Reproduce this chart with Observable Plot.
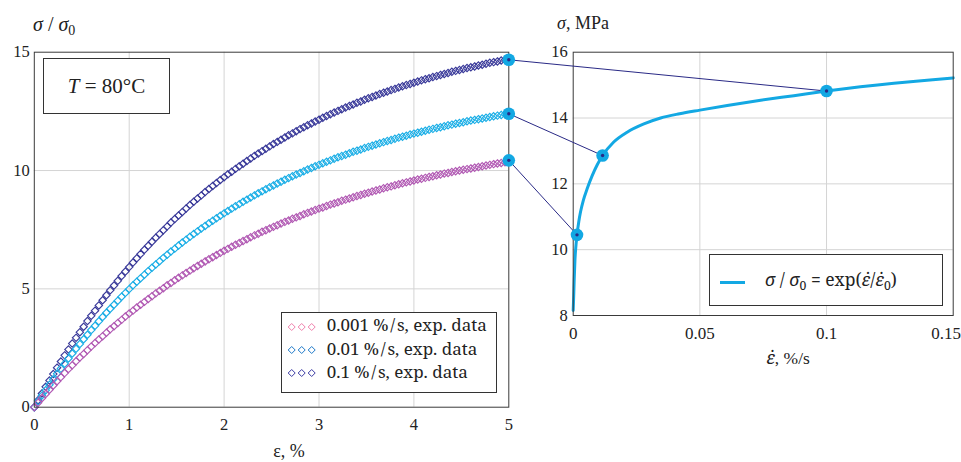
<!DOCTYPE html>
<html><head><meta charset="utf-8">
<script src="https://cdn.jsdelivr.net/npm/d3@7"></script>
<script src="https://cdn.jsdelivr.net/npm/@observablehq/plot@0.6"></script>
<style>
html,body{margin:0;padding:0;background:#fff;}
#wrap{position:relative;width:961px;height:462px;overflow:hidden;font-family:"Liberation Serif","DejaVu Serif",serif;color:#222;}
#wrap > svg.plotsvg{position:absolute;left:0;top:0;}
.t{position:absolute;white-space:nowrap;line-height:1;}
.ns{font-family:"Noto Serif","DejaVu Serif",serif;}
.box{position:absolute;box-sizing:border-box;border:1.2px solid #333;background:#fff;}
sub{font-size:0.7em;vertical-align:-0.3em;line-height:0;}
</style></head><body><div id="wrap"></div>
<script>
// ---------- data ----------
const strain = [0,0.04,0.08,0.12,0.16,0.2,0.24,0.28,0.32,0.36,0.4,0.44,0.48,0.52,0.56,0.6,0.64,0.68,0.72,0.76,0.8,0.84,0.88,0.92,0.96,
1,1.04,1.08,1.12,1.16,1.2,1.24,1.28,1.32,1.36,1.4,1.44,1.48,1.52,1.56,1.6,1.64,1.68,1.72,1.76,1.8,1.84,1.88,1.92,1.96,
2,2.04,2.08,2.12,2.16,2.2,2.24,2.28,2.32,2.36,2.4,2.44,2.48,2.52,2.56,2.6,2.64,2.68,2.72,2.76,2.8,2.84,2.88,2.92,2.96,
3,3.04,3.08,3.12,3.16,3.2,3.24,3.28,3.32,3.36,3.4,3.44,3.48,3.52,3.56,3.6,3.64,3.68,3.72,3.76,3.8,3.84,3.88,3.92,3.96,
4,4.04,4.08,4.12,4.16,4.2,4.24,4.28,4.32,4.36,4.4,4.44,4.48,4.52,4.56,4.6,4.64,4.68,4.72,4.76,4.8,4.84,4.88,4.92,4.96,5];

const sigma0001 = [0.00,0.19,0.38,0.56,0.74,0.92,1.10,1.27,1.44,1.61,1.77,1.94,2.10,2.25,2.41,2.56,2.71,2.86,3.00,3.15,3.29,3.42,3.56,3.69,3.83,
3.96,4.08,4.21,4.33,4.45,4.57,4.69,4.81,4.92,5.03,5.15,5.25,5.36,5.47,5.57,5.67,5.77,5.87,5.97,6.06,6.16,6.25,6.34,6.43,6.52,
6.61,6.69,6.78,6.86,6.94,7.02,7.10,7.18,7.26,7.33,7.41,7.48,7.55,7.62,7.69,7.76,7.83,7.89,7.96,8.02,8.08,8.15,8.21,8.27,8.33,
8.39,8.44,8.50,8.56,8.61,8.66,8.72,8.77,8.82,8.87,8.92,8.97,9.02,9.06,9.11,9.16,9.20,9.25,9.29,9.33,9.38,9.42,9.46,9.50,9.54,
9.58,9.62,9.65,9.69,9.73,9.76,9.80,9.83,9.87,9.90,9.94,9.97,10.00,10.03,10.06,10.09,10.12,10.15,10.18,10.21,10.24,10.27,10.30,10.32,10.35,10.38];

const sigma001 = [0.00,0.25,0.49,0.72,0.95,1.18,1.41,1.63,1.84,2.06,2.27,2.47,2.67,2.87,3.06,3.26,3.44,3.63,3.81,3.99,4.16,4.33,4.50,4.67,4.83,
4.99,5.15,5.30,5.45,5.60,5.75,5.89,6.03,6.17,6.31,6.44,6.58,6.70,6.83,6.96,7.08,7.20,7.32,7.43,7.55,7.66,7.77,7.88,7.98,8.09,
8.19,8.29,8.39,8.49,8.58,8.68,8.77,8.86,8.95,9.04,9.12,9.21,9.29,9.37,9.45,9.53,9.61,9.68,9.76,9.83,9.90,9.97,10.04,10.11,10.18,
10.24,10.31,10.37,10.43,10.50,10.56,10.61,10.67,10.73,10.79,10.84,10.89,10.95,11.00,11.05,11.10,11.15,11.20,11.25,11.29,11.34,11.39,11.43,11.47,11.52,
11.56,11.60,11.64,11.68,11.72,11.76,11.80,11.83,11.87,11.91,11.94,11.98,12.01,12.04,12.08,12.11,12.14,12.17,12.20,12.23,12.26,12.29,12.32,12.35,12.38,12.40];

const sigma01 = [0.00,0.29,0.58,0.86,1.13,1.40,1.67,1.93,2.19,2.44,2.69,2.93,3.17,3.40,3.64,3.86,4.08,4.30,4.52,4.73,4.94,5.14,5.34,5.54,5.73,
5.92,6.11,6.29,6.47,6.65,6.82,6.99,7.16,7.32,7.48,7.64,7.80,7.95,8.10,8.25,8.40,8.54,8.68,8.82,8.95,9.09,9.22,9.35,9.47,9.60,
9.72,9.84,9.95,10.07,10.18,10.29,10.40,10.51,10.62,10.72,10.82,10.92,11.02,11.12,11.21,11.30,11.40,11.49,11.57,11.66,11.75,11.83,11.91,11.99,12.07,
12.15,12.23,12.30,12.38,12.45,12.52,12.59,12.66,12.73,12.79,12.86,12.92,12.99,13.05,13.11,13.17,13.23,13.29,13.34,13.40,13.45,13.51,13.56,13.61,13.66,
13.71,13.76,13.81,13.86,13.90,13.95,13.99,14.04,14.08,14.12,14.17,14.21,14.25,14.29,14.33,14.36,14.40,14.44,14.47,14.51,14.55,14.58,14.61,14.65,14.68,14.71];

const legendLabels = ["0.001 %/s, exp. data", "0.01 %/s, exp. data", "0.1 %/s, exp. data"];
const endStrain = 5;
const endSigmaLeft = [10.43, 12.40, 14.68];
const pointRate = [0.0015, 0.0116, 0.1];
const pointSigma = [10.45, 12.86, 14.82];

const fitRate  = [0, 0.0002, 0.0004, 0.0007, 0.001, 0.0015, 0.0022, 0.0029, 0.004, 0.0055, 0.0075, 0.0095, 0.0116, 0.016, 0.0213, 0.0279, 0.0345, 0.042, 0.05, 0.0608, 0.074, 0.0871, 0.1, 0.1134, 0.1266, 0.1397, 0.15];
const fitSigma = [8.15, 8.6, 9.1, 9.7, 10.05, 10.45, 10.85, 11.15, 11.5, 11.85, 12.25, 12.58, 12.86, 13.27, 13.57, 13.82, 14.0, 14.13, 14.24, 14.38, 14.54, 14.68, 14.82, 14.95, 15.06, 15.15, 15.22];

const leftXTicks = [0, 1, 2, 3, 4, 5];
const leftYTicks = [0, 5, 10, 15];
const rightXTicks = [0, 0.05, 0.1, 0.15];
const rightYTicks = [8, 10, 12, 14, 16];

// ---------- styles ----------
const dataColors = ["#b159b3", "#1aaee6", "#393999"];
const legendColors = ["#ef7fac", "#1d79c9", "#3c3ca4"];
const CYAN = "#13a8e3", NAVY = "#2a2a86", FRAME = "#3a3a3a", GRID = "#d4d4d4";
const FONT = '"Liberation Serif", "DejaVu Serif", serif';

const wrap = document.getElementById("wrap");
const series = [sigma0001, sigma001, sigma01];
const common = {width: 961, height: 462,
  style: {background: "transparent", fontFamily: FONT, fontSize: "16.5px", color: "#222"}};
const fmt = d => String(d);

// ---------- left plot ----------
const leftPlot = Plot.plot({
  ...common,
  marginLeft: 33.8, marginRight: 452.7, marginTop: 51.7, marginBottom: 55.3,
  x: {domain: [0, 5]}, y: {domain: [0, 15]},
  marks: [
    Plot.gridX(leftXTicks.slice(1, -1), {stroke: GRID, strokeOpacity: 1}),
    Plot.gridY(leftYTicks.slice(1, -1), {stroke: GRID, strokeOpacity: 1}),
    ...[2, 1, 0].map(j => Plot.dot(strain.map((e, i) => ({e, s: series[j][i]})),
      {x: "e", y: "s", symbol: "diamond2", r: 3.3, stroke: dataColors[j], strokeWidth: 1.15})),
    Plot.frame({stroke: FRAME, strokeWidth: 1}),
    Plot.axisX(leftXTicks, {tickSize: 0, tickPadding: 11, tickFormat: fmt, label: null, fontSize: 16.5, fontFamily: FONT}),
    Plot.axisY(leftYTicks, {tickSize: 0, tickPadding: 4.5, tickFormat: fmt, label: null, fontSize: 16.5, fontFamily: FONT})
  ]
});
leftPlot.classList.add("plotsvg");
wrap.appendChild(leftPlot);

// ---------- right plot ----------
const rightOpts = {...common,
  marginLeft: 572.7, marginRight: 8.3, marginTop: 51.7, marginBottom: 147,
  x: {domain: [0, 0.15]}, y: {domain: [8, 16]}};
const probe = Plot.plot({...rightOpts, marks: [Plot.frame()]});
const rx = probe.scale("x"), ry = probe.scale("y");
const lx = leftPlot.scale("x"), ly = leftPlot.scale("y");

const links = endSigmaLeft.map((s, i) => ({
  x1: rx.invert(lx.apply(endStrain)), y1: ry.invert(ly.apply(s)),
  x2: pointRate[i], y2: pointSigma[i]}));
const circles = [
  ...links.map(d => ({x: d.x1, y: d.y1})),
  ...pointRate.map((r, i) => ({x: r, y: pointSigma[i]}))
];

const rightPlot = Plot.plot({
  ...rightOpts,
  marks: [
    Plot.gridX(rightXTicks.slice(1, -1), {stroke: GRID, strokeOpacity: 1}),
    Plot.gridY(rightYTicks.slice(1, -1), {stroke: GRID, strokeOpacity: 1}),
    Plot.line(fitRate.map((x, i) => ({x, y: fitSigma[i]})), {x: "x", y: "y", stroke: CYAN, strokeWidth: 3, curve: "monotone-x"}),
    Plot.frame({stroke: FRAME, strokeWidth: 1}),
    Plot.axisX(rightXTicks.slice(0, -1), {tickSize: 0, tickPadding: 11, tickFormat: fmt, label: null, fontSize: 17, fontFamily: FONT}),
    Plot.axisX(rightXTicks.slice(-1), {tickSize: 0, tickPadding: 11, tickFormat: fmt, label: null, fontSize: 17, fontFamily: FONT, dx: -7}),
    Plot.axisY(rightYTicks, {tickSize: 0, tickPadding: 5.5, tickFormat: fmt, label: null, fontSize: 16.5, fontFamily: FONT}),
    Plot.link(links, {x1: "x1", y1: "y1", x2: "x2", y2: "y2", stroke: NAVY, strokeWidth: 1}),
    Plot.dot(circles, {x: "x", y: "y", r: 6.3, fill: CYAN}),
    Plot.dot(circles, {x: "x", y: "y", r: 1.7, fill: NAVY})
  ]
});
rightPlot.classList.add("plotsvg");
wrap.appendChild(rightPlot);

// ---------- texts, boxes, legends ----------
function addText(html, left, top, size, center, cls) {
  const d = document.createElement("div");
  d.className = "t" + (cls ? " " + cls : "");
  d.innerHTML = html;
  d.style.left = left + "px";
  d.style.top = top + "px";
  d.style.fontSize = size + "px";
  if (center) d.style.transform = "translateX(-50%)";
  wrap.appendChild(d);
  return d;
}
function addBox(left, top, w, h) {
  const d = document.createElement("div");
  d.className = "box";
  Object.assign(d.style, {left: left + "px", top: top + "px", width: w + "px", height: h + "px"});
  wrap.appendChild(d);
  return d;
}
const EDOT = '<i class="ns">ε&#x307;</i>';

addText('<i>σ</i> / <i>σ</i><sub>0</sub>', 33, 14, 20);
addText('<i>σ</i>, MPa', 557, 14, 18);
addText('ε, %', 289, 442, 18, true);
addText(EDOT + ', %/s', 788, 349, 17.5, true);

// temperature box
const tb = addBox(43, 58, 127, 56);
tb.style.display = "flex"; tb.style.alignItems = "center"; tb.style.justifyContent = "center";
tb.style.fontSize = "21px";
tb.innerHTML = '<span><i>T</i> = 80°C</span>';

// left legend
addBox(280.7, 311.7, 216, 81.6);
legendLabels.forEach((lab, i) => {
  const cy = 326.7 + 23.3 * i;
  const s = d3.select(wrap).append("svg")
    .style("position", "absolute").style("left", "284px").style("top", (cy - 6) + "px")
    .attr("width", 36).attr("height", 12);
  [7.7, 17.7, 27.7].forEach(cx => s.append("path")
    .attr("d", `M${cx},2.5L${cx + 3.5},6L${cx},9.5L${cx - 3.5},6Z`)
    .attr("fill", "none").attr("stroke", legendColors[i]).attr("stroke-width", 1));
  addText(lab.replace("%/s", "%&#8202;/&#8202;s"), 326.7, cy - 10.5, 17, false, "ns");
});

// right legend
addBox(709.3, 254.3, 234, 51.7);
const sw = document.createElement("div");
Object.assign(sw.style, {position: "absolute", left: "720px", top: "280.8px", width: "25px", height: "3px", background: CYAN});
wrap.appendChild(sw);
addText('<i>σ</i> / <i>σ</i><sub>0</sub> = exp(' + EDOT + '/' + EDOT + '<sub>0</sub>)', 765, 271, 17.5, false, "ns");
</script></body></html>
